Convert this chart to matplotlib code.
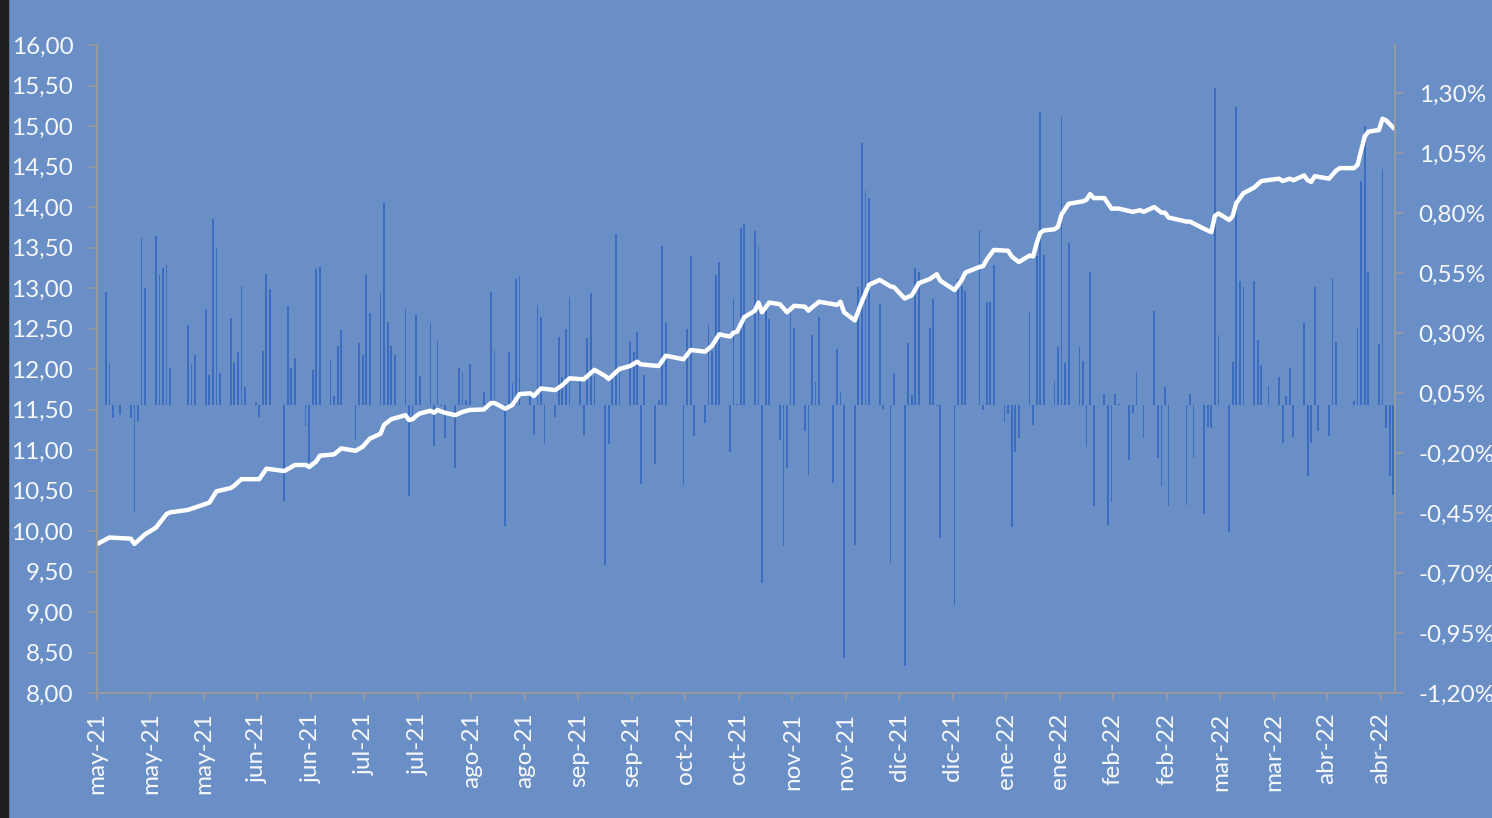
import matplotlib
matplotlib.use("Agg")
import matplotlib.pyplot as plt
from matplotlib.patches import Rectangle
from matplotlib.ticker import FuncFormatter

# días contados desde el 01/05/2021 (sábado)
dias_var = [2, 3, 4, 6, 9, 10, 11, 12, 13, 16, 17, 18, 19, 20, 25, 26, 27, 30, 31, 32, 33, 34,
            37, 38, 39, 40, 41, 44, 45, 46, 47, 48, 52, 53, 54, 55, 58, 59, 60, 61, 62,
            65, 66, 67, 68, 72, 73, 74, 75, 76, 79, 80, 81, 82, 83, 86, 87, 88, 89, 90,
            93, 94, 95, 96, 97, 100, 101, 102, 103, 104, 108, 110, 111, 114, 115, 116, 117, 118,
            121, 122, 123, 124, 125, 128, 129, 130, 131, 132, 135, 136, 137, 138, 139,
            142, 143, 144, 145, 146, 149, 150, 151, 152, 153, 156, 157, 158, 159,
            164, 165, 166, 167, 170, 171, 172, 173, 174, 177, 178, 179, 180, 181,
            184, 185, 186, 187, 188, 191, 192, 193, 194, 195, 198, 199, 200, 201, 202,
            206, 207, 208, 209, 212, 213, 214, 215, 216, 219, 220, 222, 223,
            226, 227, 228, 229, 230, 233, 234, 235, 236, 240, 241, 242, 243,
            247, 248, 249, 250, 251, 254, 255, 256, 257, 258, 261, 262, 263, 264, 265,
            268, 269, 270, 271, 272, 275, 276, 277, 278, 279, 282, 283, 284, 285, 286,
            289, 290, 291, 293, 296, 297, 298, 299, 300, 305, 306, 307,
            310, 311, 312, 313, 314, 317, 318, 319, 320, 321, 324, 325, 326, 328,
            331, 332, 333, 334, 335, 338, 339, 340, 341, 342, 345, 346, 347,
            352, 353, 354, 355, 356, 359, 360, 361, 362, 363]
variacion = [0.472, 0.174, -0.055, -0.040, -0.055, -0.444, -0.067, 0.696, 0.486, 0.703, 0.543, 0.571, 0.585, 0.154,
             0.333, 0.169, 0.208, 0.400, 0.125, 0.775, 0.654, 0.132,
             0.363, 0.175, 0.221, 0.496, 0.076, 0.011, -0.051, 0.225, 0.546, 0.483, -0.399, 0.414, 0.154, 0.196,
             -0.086, -0.239, 0.146, 0.565, 0.575,
             0.189, 0.038, 0.246, 0.313, -0.146, 0.258, 0.210, 0.542, 0.383, 0.467, 0.840, 0.344, 0.246, 0.210,
             0.405, -0.381, -0.058, 0.376, 0.122,
             0.343, -0.170, 0.271, -0.005, -0.139, -0.261, 0.153, 0.139, 0.022, 0.169, 0.056, 0.470, 0.224,
             -0.506, 0.219, 0.092, 0.525, 0.538,
             0.036, -0.125, 0.417, 0.367, -0.164, -0.049, 0.282, 0.115, 0.315, 0.450, 0.108, -0.125, 0.278, 0.467, 0.122,
             -0.667, -0.162, 0.110, 0.713, 0.139, 0.265, 0.219, 0.303, -0.329, 0.125, -0.246, 0.021, 0.661, 0.342,
             -0.333, 0.317, 0.622, -0.130, -0.076, 0.339, 0.224, 0.542, 0.595, -0.194, 0.440, 0.003, 0.736, 0.753,
             0.727, 0.659, -0.743, 0.397, 0.359, -0.147, -0.587, -0.261, 0.387, 0.321, -0.110, -0.290, 0.292, 0.095, 0.367,
             -0.324, 0.233, 0.056, -1.055, -0.584, 0.492, 1.092, 0.891, 0.862, 0.420, -0.015, -0.658, 0.133,
             -1.087, 0.257, 0.042, 0.570, 0.553, 0.321, 0.441, -0.005, -0.556, -0.835, 0.525, 0.497, 0.474,
             0.729, -0.021, 0.428, 0.428, 0.583, -0.072, -0.038, -0.507, -0.197, -0.139, 0.386, -0.082, 0.622, 1.219, 0.625,
             0.099, 0.242, 1.199, 0.175, 0.675, 0.243, 0.182, -0.174, 0.553, -0.422, 0.044, -0.499, -0.405, 0.044, 0.005,
             -0.228, -0.035, 0.136, -0.138, 0.392, -0.222, -0.339, 0.074, -0.422, -0.415, 0.046, -0.222,
             -0.454, -0.093, -0.097, 1.319, 0.293, -0.531, 0.178, 1.240, 0.515, 0.490, 0.517, 0.272, 0.168, 0.079,
             0.117, -0.158, 0.036, 0.153, -0.135, 0.342, -0.294, -0.158, 0.490, -0.107, -0.128, 0.528, 0.264,
             0.015, 0.321, 0.933, 1.164, 0.556, 0.254, 0.983, -0.097, -0.297, -0.374]

dias_precio = [0, 3, 9, 10, 11, 13, 16, 19, 20, 25, 27, 31, 33, 37, 38, 40, 45, 47, 52, 55, 58, 59, 61, 62,
               66, 68, 72, 74, 76, 79, 80, 82, 86, 87, 88, 89, 90, 93, 94, 95, 97, 100, 102, 104,
               108, 110, 111, 114, 116, 118, 121, 122, 124, 128, 130, 132, 136, 139, 142, 143, 146,
               149, 151, 152, 157, 159, 164, 166, 170, 172, 174, 177, 178, 179, 181,
               184, 185, 186, 188, 191, 193, 195, 198, 199, 200, 202, 206, 207, 208, 209,
               212, 214, 216, 219, 222, 223, 226, 228, 230, 233, 235, 236, 240, 242, 243,
               247, 248, 249, 251, 255, 256, 258, 261, 262, 263, 264, 265, 268, 269, 270, 272,
               276, 277, 278, 279, 282, 284, 286, 290, 292, 293, 296, 298, 299, 300,
               305, 306, 310, 312, 313, 314, 317, 318, 319, 321, 324, 326, 331, 332, 334, 335,
               338, 339, 340, 341, 345, 347, 348, 352, 353, 355, 356, 359, 360, 361, 363]
precio = [9.85, 9.92, 9.905, 9.84, 9.88, 9.96, 10.04, 10.21, 10.23, 10.26, 10.29, 10.35, 10.49, 10.53, 10.56,
          10.64, 10.64, 10.77, 10.74, 10.815, 10.815, 10.79, 10.86, 10.93,
          10.946, 11.02, 10.99, 11.04, 11.14, 11.20, 11.31, 11.38, 11.43, 11.37, 11.38, 11.42, 11.45,
          11.485, 11.46, 11.494, 11.46, 11.43, 11.47, 11.494,
          11.50, 11.58, 11.58, 11.51, 11.556, 11.69, 11.70, 11.667, 11.76, 11.74, 11.80, 11.885, 11.873,
          11.99, 11.914, 11.877, 12.00,
          12.037, 12.09, 12.057, 12.037, 12.164, 12.12, 12.235, 12.214, 12.288, 12.428, 12.40, 12.448, 12.46, 12.64,
          12.72, 12.82, 12.70, 12.82, 12.80, 12.70, 12.78, 12.77, 12.72, 12.76, 12.83, 12.80, 12.79, 12.83, 12.70,
          12.60, 12.83, 13.04, 13.10, 13.02, 13.01, 12.87, 12.91, 13.06, 13.11, 13.17, 13.09, 12.975, 13.10, 13.19,
          13.26, 13.27, 13.35, 13.47, 13.46, 13.39, 13.32, 13.40, 13.39, 13.55, 13.68, 13.71, 13.725, 13.757,
          13.91, 14.04,
          14.07, 14.09, 14.16, 14.11, 14.11, 13.98, 13.98, 13.94, 13.96, 13.94, 14.00, 13.93, 13.93, 13.87,
          13.82, 13.82, 13.73, 13.69, 13.89, 13.92, 13.84, 13.89, 14.05, 14.17, 14.24, 14.32, 14.35, 14.32,
          14.35, 14.33,
          14.39, 14.33, 14.31, 14.38, 14.35, 14.45, 14.48, 14.48, 14.52, 14.87, 14.93, 14.95, 15.09, 15.07, 14.98]

# una etiqueta cada 15 días desde el 01/05/2021
etiquetas_x = ["may-21", "may-21", "may-21", "jun-21", "jun-21", "jul-21", "jul-21", "ago-21", "ago-21",
               "sep-21", "sep-21", "oct-21", "oct-21", "nov-21", "nov-21", "dic-21", "dic-21",
               "ene-22", "ene-22", "feb-22", "feb-22", "mar-22", "mar-22", "abr-22", "abr-22"]

fondo = "#698FC6"
gris = "#9a9a9a"
texto = "#f6f8fb"

plt.rcParams["font.family"] = ["Lato", "DejaVu Sans"]

fig = plt.figure(figsize=(14.92, 8.18), dpi=100, facecolor=fondo)
fig.patches.append(Rectangle((0, 0), 8 / 1492, 1, transform=fig.transFigure, color="#1e1e1e", zorder=0))

ax = fig.add_axes([97 / 1492, 1 - 693 / 818, 1298 / 1492, 648 / 818])
ax.set_facecolor(fondo)
ax.bar(dias_var, variacion, width=0.5, color="#3a6cc0", linewidth=0)

ax.set_xlim(-0.5, 363.5)
ax.set_xticks([-0.5 + 15 * i for i in range(len(etiquetas_x))])
ax.set_xticklabels(etiquetas_x, rotation=90)

ax2 = ax.twinx()
ax2.plot(dias_precio, precio, color="white", lw=3.2, solid_joinstyle="round")
ax2.set_ylim(8, 16)
ax2.set_yticks([8 + 0.5 * i for i in range(17)])
ax2.yaxis.tick_left()
ax2.yaxis.set_major_formatter(FuncFormatter(lambda v, p: f"{v:.2f}".replace(".", ",")))

# twinx deja el eje original a la izquierda: se pasa a la derecha después
ax.set_ylim(-1.2, 1.5)
ax.set_yticks([-1.2 + 0.25 * i for i in range(11)])
ax.yaxis.tick_right()
ax.yaxis.set_label_position("right")
ax.yaxis.set_major_formatter(FuncFormatter(lambda v, p: f"{v:.2f}%".replace(".", ",")))

for a in (ax, ax2):
    a.spines["top"].set_visible(False)
    for s in ("left", "right", "bottom"):
        a.spines[s].set_color(gris)
        a.spines[s].set_linewidth(1.2)
    a.tick_params(axis="both", colors=gris, labelcolor=texto, labelsize=17.5,
                  length=6, width=1.2, direction="out", pad=11)
ax.tick_params(axis="x", pad=8)

fig.savefig("out.png", dpi=100, facecolor=fondo)
